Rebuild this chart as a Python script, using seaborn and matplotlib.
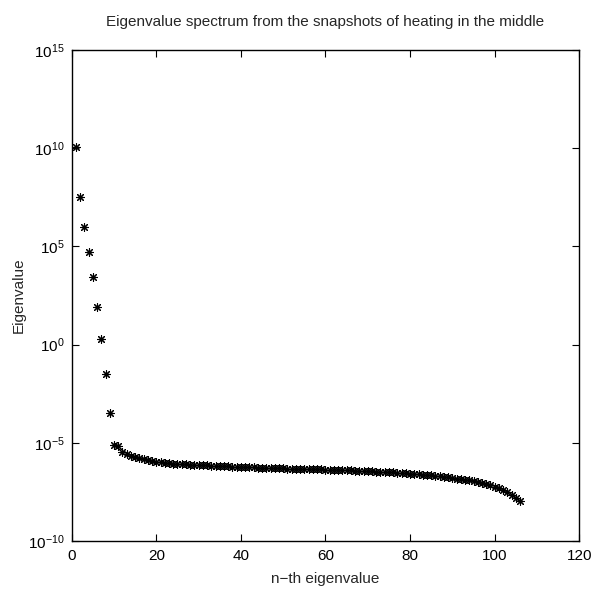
import numpy as np
import pandas as pd
import matplotlib
matplotlib.use("Agg")
import matplotlib.pyplot as plt
import seaborn as sns

# ---- data ----
n_index = list(range(1, 107))
eigenvalues = [
    1.2e10, 3.2e7, 1.0e6, 5.1e4, 2.7e3, 8.5e1, 2.0e0, 3.2e-2, 3.4e-4, 7.9e-6,
    7.1e-6, 3.5e-6, 2.8e-6, 2.2e-6, 1.9e-6, 1.66e-6, 1.48e-6, 1.32e-6, 1.20e-6, 1.10e-6,
    1.02e-6, 9.8e-7, 9.1e-7, 8.7e-7, 8.3e-7, 8.1e-7, 7.9e-7, 7.8e-7, 7.6e-7, 7.4e-7,
    7.2e-7, 7.1e-7, 6.9e-7, 6.8e-7, 6.6e-7, 6.5e-7, 6.3e-7, 6.2e-7, 6.0e-7, 5.9e-7,
    5.8e-7, 5.75e-7, 5.6e-7, 5.5e-7, 5.4e-7, 5.35e-7, 5.25e-7, 5.2e-7, 5.1e-7, 5.0e-7,
    4.9e-7, 4.85e-7, 4.8e-7, 4.7e-7, 4.65e-7, 4.6e-7, 4.5e-7, 4.45e-7, 4.4e-7, 4.3e-7,
    4.25e-7, 4.2e-7, 4.1e-7, 4.05e-7, 4.0e-7, 3.9e-7, 3.85e-7, 3.75e-7, 3.7e-7, 3.55e-7,
    3.5e-7, 3.4e-7, 3.35e-7, 3.3e-7, 3.2e-7, 3.1e-7, 3.0e-7, 2.9e-7, 2.8e-7, 2.65e-7,
    2.6e-7, 2.5e-7, 2.4e-7, 2.3e-7, 2.2e-7, 2.1e-7, 2.0e-7, 1.85e-7, 1.75e-7, 1.6e-7,
    1.5e-7, 1.42e-7, 1.35e-7, 1.25e-7, 1.12e-7, 1.0e-7, 9.0e-8, 7.9e-8, 6.8e-8, 5.6e-8,
    4.8e-8, 4.0e-8, 3.0e-8, 2.2e-8, 1.6e-8, 1.1e-8,
]
x_ticks = [0, 20, 40, 60, 80, 100, 120]
y_ticks = [1e-10, 1e-5, 1e0, 1e5, 1e10, 1e15]

title = "Eigenvalue spectrum from the snapshots of heating in the middle"
x_label = "n\u2212th eigenvalue"
y_label = "Eigenvalue"

df = pd.DataFrame({"n": n_index, "eigenvalue": eigenvalues})

sns.set_style("ticks")
FONT = "Liberation Sans"
plt.rcParams["font.family"] = [FONT, "DejaVu Sans"]
plt.rcParams["mathtext.fontset"] = "custom"
plt.rcParams["mathtext.rm"] = FONT
plt.rcParams["mathtext.it"] = FONT + ":italic"
plt.rcParams["mathtext.bf"] = FONT + ":bold"

FS = 11

fig = plt.figure(figsize=(5.93, 5.89), dpi=100)
ax = fig.add_axes([0.1209, 0.0815, 0.856, 0.8336])
ax.set_yscale("log")

sns.scatterplot(data=df, x="n", y="eigenvalue", ax=ax, marker=(8, 2, 0),
                s=32, color="black", linewidth=0.8, legend=False, zorder=3)

ax.set_xlim(0, 120)
ax.set_ylim(1e-10, 1e15)
ax.set_xticks(x_ticks)
ax.set_yticks(y_ticks)
ax.yaxis.set_minor_locator(matplotlib.ticker.NullLocator())
ax.tick_params(axis="both", which="major", direction="in", length=5, width=0.8,
               labelsize=FS, top=True, right=True, colors="black")
ax.tick_params(axis="x", pad=6)
ax.tick_params(axis="y", pad=5)
for sp in ax.spines.values():
    sp.set_visible(True)
    sp.set_linewidth(1.0)
    sp.set_color("black")

ax.set_title(title, fontsize=FS, pad=17)
ax.set_xlabel(x_label, fontsize=FS, labelpad=6)
ax.set_ylabel(y_label, fontsize=FS, labelpad=1.5)

fig.savefig("out.png", dpi=100, facecolor="white")
